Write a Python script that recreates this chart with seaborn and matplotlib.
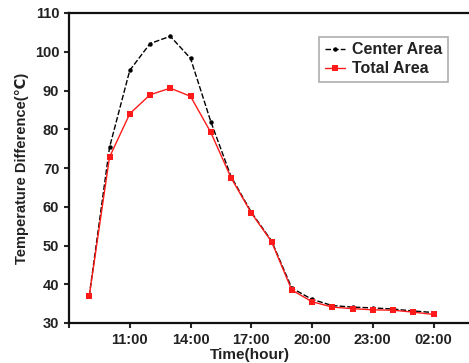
import matplotlib
matplotlib.use("Agg")
import matplotlib.pyplot as plt
import numpy as np
import pandas as pd
import seaborn as sns

# hours since midnight of the first day (25 = 01:00 next day)
hours = [9, 10, 11, 12, 13, 14, 15, 16, 17, 18, 19, 20, 21, 22, 23, 24, 25, 26]
center_area = [37.0, 75.3, 95.2, 102.1, 104.0, 98.3, 82.0, 67.8, 58.6, 51.2, 39.0,
               36.1, 34.5, 34.1, 33.9, 33.6, 33.1, 32.7]
total_area = [37.0, 72.8, 84.0, 88.9, 90.6, 88.5, 79.2, 67.5, 58.4, 51.0, 38.5,
              35.5, 34.1, 33.7, 33.4, 33.3, 32.8, 32.2]
tick_hours = [8, 11, 14, 17, 20, 23, 26]
tick_labels = [""] + ["%02d:00" % (h % 24) for h in tick_hours[1:]]

df = pd.DataFrame({
    "hour": hours * 2,
    "temp": center_area + total_area,
    "series": ["Center Area"] * len(hours) + ["Total Area"] * len(hours),
})

sns.set_style("ticks")
plt.rcParams["font.family"] = ["Liberation Sans", "DejaVu Sans"]
plt.rcParams["font.weight"] = "bold"

fig = plt.figure(figsize=(4.69, 3.63), dpi=100)
ax = fig.add_axes([69 / 469, 40 / 363, 1 - 69 / 469, 310 / 363])

sns.lineplot(
    data=df, x="hour", y="temp", hue="series", style="series",
    palette={"Center Area": "black", "Total Area": "#ff1a1a"},
    markers={"Center Area": "o", "Total Area": "s"},
    dashes={"Center Area": (4, 1.5), "Total Area": ""},
    linewidth=1.0, markersize=4, markeredgewidth=0, ax=ax,
)
for line in ax.lines:
    if line.get_color() == "black":
        line.set_markersize(3.2)

ax.set_xlim(8, 27.75)
ax.set_ylim(30, 110)
ax.set_xticks(tick_hours)
ax.set_xticklabels(tick_labels)
ax.set_yticks(np.arange(30, 111, 10))
ax.tick_params(axis="both", labelsize=10.5, width=1.5, length=3.5, direction="out")
for lab in ax.get_xticklabels() + ax.get_yticklabels():
    lab.set_fontweight("bold")
    lab.set_color("#222222")

for side in ["left", "bottom", "top"]:
    ax.spines[side].set_linewidth(1.6)
    ax.spines[side].set_color("#111111")
ax.spines["right"].set_visible(False)

ax.set_xlabel("Time(hour)", fontsize=11, fontweight="bold", color="#222222")
ax.xaxis.set_label_coords((250 - 69) / 400, -0.08)
ax.set_ylabel("Temperature Difference(\u2103)", fontsize=10.5, fontweight="bold",
              color="#222222")
ax.yaxis.set_label_coords(-0.1, 0.5)

leg = ax.legend(loc="upper left", bbox_to_anchor=(250 / 400, 0.924), borderaxespad=0,
                fontsize=11.5, frameon=True, fancybox=False, handlelength=1.3,
                handletextpad=0.4, borderpad=0.35, labelspacing=0.25)
leg.get_frame().set_edgecolor("#999999")
leg.get_frame().set_linewidth(1.2)
for t in leg.get_texts():
    t.set_fontweight("bold")
    t.set_color("#222222")

fig.savefig("out.png", dpi=100)
